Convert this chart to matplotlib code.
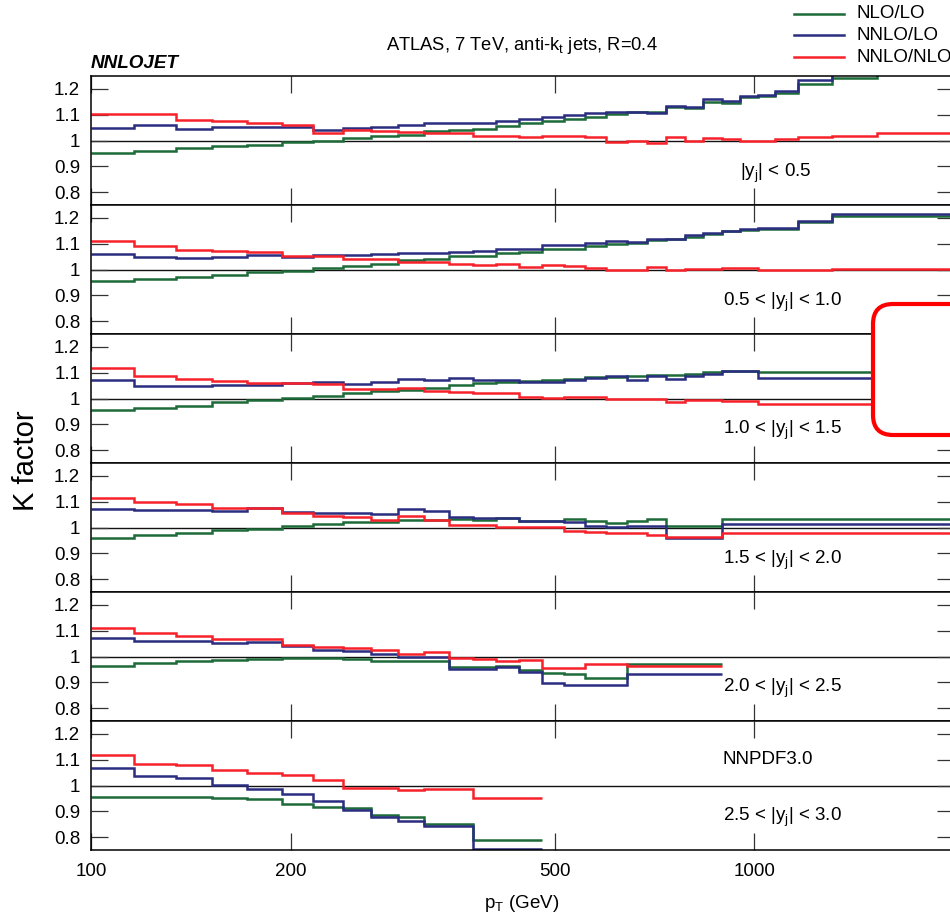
import matplotlib
matplotlib.use("Agg")
import matplotlib.pyplot as plt
from matplotlib.lines import Line2D
from matplotlib.patches import FancyBboxPatch
from matplotlib.transforms import IdentityTransform
from matplotlib.ticker import FixedLocator, FixedFormatter, NullLocator

plt.rcParams['font.family'] = ['Liberation Sans', 'DejaVu Sans']
plt.rcParams['mathtext.fontset'] = 'custom'
plt.rcParams['mathtext.rm'] = 'Liberation Sans'
plt.rcParams['mathtext.it'] = 'Liberation Sans:italic'

# ---------------- data ----------------
# pT bin edges (GeV)
edges_full = [100, 116, 134, 152, 172, 194, 216, 240, 264, 290, 318, 346, 376,
              408, 442, 478, 516, 556, 598, 642, 688, 736, 786, 838, 894, 952,
              1012, 1076, 1162, 1310, 1530, 1992]

# |y| < 0.5
edges_y1 = edges_full
nlo_lo_y1 = [0.951, 0.960, 0.969, 0.977, 0.984, 0.994, 1.000, 1.010, 1.018, 1.023, 1.037, 1.042,
             1.045, 1.056, 1.066, 1.076, 1.085, 1.092, 1.101, 1.110, 1.112, 1.130, 1.127, 1.149,
             1.147, 1.167, 1.173, 1.185, 1.220, 1.242, 1.290]
nnlo_lo_y1 = [1.050, 1.059, 1.044, 1.052, 1.052, 1.052, 1.042, 1.048, 1.053, 1.059, 1.066, 1.066,
              1.066, 1.074, 1.083, 1.093, 1.097, 1.105, 1.110, 1.110, 1.106, 1.134, 1.128, 1.159,
              1.155, 1.171, 1.177, 1.193, 1.233, 1.256, 1.290]
nnlo_nlo_y1 = [1.101, 1.101, 1.078, 1.075, 1.066, 1.059, 1.031, 1.040, 1.036, 1.032, 1.031, 1.031,
               1.019, 1.019, 1.013, 1.016, 1.016, 1.013, 0.994, 1.000, 0.991, 1.013, 1.000, 1.009,
               1.006, 1.000, 1.000, 1.006, 1.014, 1.017, 1.028]

# 0.5 < |y| < 1.0
edges_y2 = edges_full
nlo_lo_y2 = [0.954, 0.962, 0.971, 0.979, 0.989, 0.995, 1.006, 1.014, 1.020, 1.036, 1.042, 1.052,
             1.052, 1.065, 1.068, 1.078, 1.078, 1.091, 1.099, 1.101, 1.114, 1.117, 1.127, 1.136,
             1.148, 1.153, 1.158, 1.158, 1.184, 1.209, 1.209]
nnlo_lo_y2 = [1.061, 1.047, 1.045, 1.047, 1.056, 1.047, 1.057, 1.056, 1.060, 1.064, 1.065, 1.069,
              1.072, 1.078, 1.078, 1.095, 1.095, 1.104, 1.109, 1.105, 1.120, 1.117, 1.134, 1.140,
              1.149, 1.158, 1.162, 1.162, 1.187, 1.214, 1.214]
nnlo_nlo_y2 = [1.112, 1.090, 1.076, 1.070, 1.066, 1.052, 1.051, 1.042, 1.039, 1.030, 1.030, 1.020,
               1.018, 1.020, 1.011, 1.016, 1.012, 1.006, 0.999, 0.999, 1.010, 0.997, 1.002, 1.002,
               1.006, 1.004, 0.998, 0.998, 1.000, 1.003, 1.003]

# 1.0 < |y| < 1.5
edges_y3 = [100, 116, 134, 152, 172, 194, 216, 240, 264, 290, 318, 346, 376,
            408, 442, 478, 516, 556, 598, 642, 688, 736, 786, 838, 894, 1012, 1530]
nlo_lo_y3 = [0.957, 0.963, 0.972, 0.985, 0.994, 1.002, 1.008, 1.020, 1.028, 1.034, 1.041, 1.051,
             1.060, 1.063, 1.068, 1.070, 1.077, 1.085, 1.085, 1.088, 1.092, 1.092, 1.095, 1.101,
             1.108, 1.104]
nnlo_lo_y3 = [1.070, 1.047, 1.047, 1.051, 1.051, 1.060, 1.064, 1.055, 1.064, 1.076, 1.072, 1.078,
              1.072, 1.072, 1.065, 1.065, 1.073, 1.078, 1.087, 1.072, 1.089, 1.074, 1.087, 1.095,
              1.105, 1.078]
nnlo_nlo_y3 = [1.117, 1.087, 1.076, 1.068, 1.061, 1.059, 1.055, 1.036, 1.037, 1.039, 1.030, 1.024,
               1.023, 1.023, 1.007, 1.003, 1.007, 1.005, 0.997, 0.997, 0.997, 0.986, 0.993, 0.993,
               0.990, 0.980]

# 1.5 < |y| < 2.0
edges_y4 = [100, 116, 134, 152, 172, 194, 216, 240, 264, 290, 318, 346, 376,
            408, 442, 478, 516, 556, 598, 642, 688, 736, 894, 1992]
nlo_lo_y4 = [0.961, 0.970, 0.977, 0.989, 0.995, 1.006, 1.015, 1.020, 1.020, 1.029, 1.029, 1.033,
             1.030, 1.036, 1.024, 1.024, 1.033, 1.024, 1.016, 1.024, 1.033, 1.007, 1.032]
nnlo_lo_y4 = [1.073, 1.067, 1.067, 1.064, 1.074, 1.060, 1.056, 1.056, 1.051, 1.072, 1.063, 1.042,
              1.038, 1.038, 1.024, 1.026, 1.021, 1.005, 1.002, 1.005, 1.006, 0.961, 1.014]
nnlo_nlo_y4 = [1.113, 1.098, 1.090, 1.074, 1.074, 1.056, 1.045, 1.039, 1.029, 1.043, 1.029, 1.011,
               1.011, 1.003, 1.001, 1.001, 0.988, 0.983, 0.980, 0.977, 0.971, 0.962, 0.980]

# 2.0 < |y| < 2.5
edges_y5 = [100, 116, 134, 152, 172, 194, 216, 240, 264, 290, 318, 346, 376,
            408, 442, 478, 516, 556, 642, 894]
nlo_lo_y5 = [0.964, 0.976, 0.983, 0.986, 0.992, 0.994, 0.993, 0.989, 0.984, 0.984, 0.983, 0.959,
             0.959, 0.962, 0.946, 0.937, 0.932, 0.918, 0.970]
nnlo_lo_y5 = [1.073, 1.061, 1.059, 1.052, 1.055, 1.039, 1.026, 1.023, 1.008, 0.997, 1.000, 0.950,
              0.950, 0.959, 0.939, 0.896, 0.891, 0.891, 0.932]
nnlo_nlo_y5 = [1.112, 1.091, 1.081, 1.069, 1.067, 1.045, 1.036, 1.032, 1.025, 1.008, 1.017, 0.993,
               0.989, 0.984, 0.986, 0.957, 0.957, 0.972, 0.963]

# 2.5 < |y| < 3.0
edges_y6 = [100, 116, 134, 152, 172, 194, 216, 240, 264, 290, 318, 346, 376, 478]
nlo_lo_y6 = [0.955, 0.955, 0.955, 0.950, 0.947, 0.928, 0.917, 0.911, 0.884, 0.877, 0.851, 0.851, 0.788]
nnlo_lo_y6 = [1.068, 1.035, 1.028, 1.001, 0.988, 0.968, 0.938, 0.906, 0.877, 0.863, 0.844, 0.844, 0.752]
nnlo_nlo_y6 = [1.118, 1.085, 1.078, 1.059, 1.047, 1.041, 1.023, 0.991, 0.991, 0.982, 0.986, 0.986, 0.952]

rapidity_labels = ['|y$_{\\mathrm{j}}$| < 0.5',
                   '0.5 < |y$_{\\mathrm{j}}$| < 1.0',
                   '1.0 < |y$_{\\mathrm{j}}$| < 1.5',
                   '1.5 < |y$_{\\mathrm{j}}$| < 2.0',
                   '2.0 < |y$_{\\mathrm{j}}$| < 2.5',
                   '2.5 < |y$_{\\mathrm{j}}$| < 3.0']
series_names = ['NLO/LO', 'NNLO/LO', 'NNLO/NLO']
x_ticks = [100, 200, 500, 1000]
x_tick_labels = ['100', '200', '500', '1000']
y_ticks = [0.8, 0.9, 1.0, 1.1, 1.2]
y_tick_labels = ['0.8', '0.9', '1', '1.1', '1.2']

panels = [
    (edges_y1, nlo_lo_y1, nnlo_lo_y1, nnlo_nlo_y1),
    (edges_y2, nlo_lo_y2, nnlo_lo_y2, nnlo_nlo_y2),
    (edges_y3, nlo_lo_y3, nnlo_lo_y3, nnlo_nlo_y3),
    (edges_y4, nlo_lo_y4, nnlo_lo_y4, nnlo_nlo_y4),
    (edges_y5, nlo_lo_y5, nnlo_lo_y5, nnlo_nlo_y5),
    (edges_y6, nlo_lo_y6, nnlo_lo_y6, nnlo_nlo_y6),
]

colors = ['#1d6b38', '#2a2d80', '#f7212a']
FS = 13.5

# ---------------- layout (pixels) ----------------
W, H = 950, 916
fig = plt.figure(figsize=(W / 100, H / 100), dpi=100)

left_px, right_px = 91.3, 954.0
top_px, panel_h = 76.0, 129.0

label_pos = [(740, 173), (723, 302), (723, 430), (723, 560), (723, 688), (723, 817)]

for i, (edges, g, b, r) in enumerate(panels):
    ax = fig.add_axes([left_px / W, 1 - (top_px + (i + 1) * panel_h) / H,
                       (right_px - left_px) / W, panel_h / H])
    ax.set_xscale('log')
    ax.set_xlim(100, 2000)
    ax.set_ylim(0.75, 1.25)
    ax.axhline(1.0, color='#111111', lw=1.0, zorder=1)
    for vals, c in zip((g, b, r), colors):
        ax.stairs(vals, edges, baseline=None, color=c, lw=1.8, zorder=2)

    ax.xaxis.set_major_locator(FixedLocator(x_ticks))
    ax.xaxis.set_major_formatter(FixedFormatter(x_tick_labels))
    ax.xaxis.set_minor_locator(NullLocator())
    ax.yaxis.set_major_locator(FixedLocator(y_ticks))
    ax.yaxis.set_major_formatter(FixedFormatter(y_tick_labels))
    ax.yaxis.set_minor_locator(NullLocator())
    ax.tick_params(axis='both', which='major', direction='in', length=12.5,
                   width=0.9, color='#333333', top=True, right=True,
                   labelsize=FS)
    ax.tick_params(axis='y', pad=8)
    ax.tick_params(axis='x', pad=9, labelbottom=(i == 5))
    for s in ax.spines.values():
        s.set_linewidth(1.1)

    lx, ly = label_pos[i]
    fig.text(lx / W, 1 - ly / H, rapidity_labels[i], fontsize=FS,
             ha='left', va='center')

fig.text(723 / W, 1 - 760 / H, 'NNPDF3.0', fontsize=FS, ha='left', va='center')

# titles and axis labels
fig.text(522 / W, 1 - 45 / H, 'ATLAS, 7 TeV, anti-k$_{\\mathrm{t}}$ jets, R=0.4',
         fontsize=13.2, ha='center', va='center')
fig.text(91 / W, 1 - 64 / H, 'NNLOJET', fontsize=13.6, fontweight='bold',
         style='italic', ha='left', va='center')
fig.text(26 / W, 1 - 461 / H, 'K factor', fontsize=21, rotation=90,
         ha='center', va='center')
fig.text(522 / W, 1 - 903 / H, 'p$_{\\mathrm{T}}$ (GeV)', fontsize=FS,
         ha='center', va='center')

# legend
for name, c, y in zip(series_names, colors, (14, 35, 57)):
    fig.add_artist(Line2D([794 / W, 844 / W], [1 - y / H, 1 - y / H],
                          transform=fig.transFigure, color=c, lw=1.8))
    fig.text(856 / W, 1 - y / H, name, fontsize=FS, ha='left', va='center')

# highlight box
box = FancyBboxPatch((873, H - 435), 200, 131,
                     boxstyle='round,pad=0,rounding_size=20',
                     transform=IdentityTransform(), facecolor='white',
                     edgecolor='#ff0000', lw=3.0, zorder=10)
fig.add_artist(box)

fig.savefig('out.png', dpi=100)
